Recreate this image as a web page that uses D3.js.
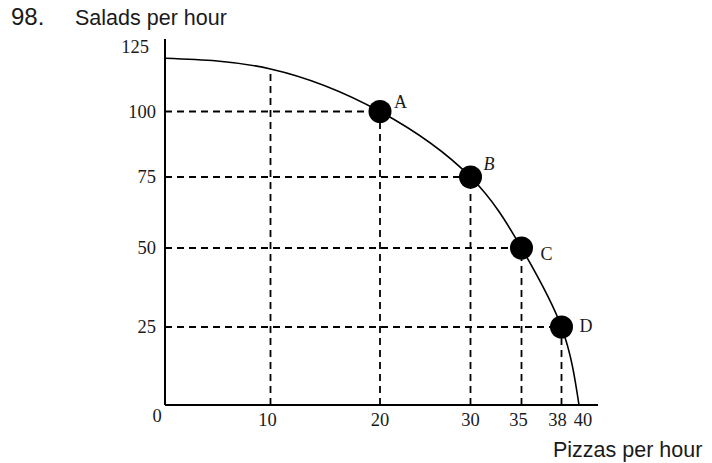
<!DOCTYPE html>
<html>
<head>
<meta charset="utf-8">
<script src="https://cdn.jsdelivr.net/npm/d3@7"></script>
<style>
  body { margin: 0; background: #fff; }
  text { fill: #1a1a1a; }
  .serif { font-family: "Liberation Serif", "DejaVu Serif", serif; }
  .sans { font-family: "Liberation Sans", Arial, sans-serif; }
</style>
</head>
<body>
<script>
// curve
var pizzas = [0, 10, 20, 30, 35, 38, 40];
var salads = [120, 116, 100, 75, 50, 25, 0];
// labelled points
var pointNames = ["A", "B", "C", "D"];
var pointPizzas = [20, 30, 35, 38];
var pointSalads = [100, 75, 50, 25];
// tick labels
var xTicks = [0, 10, 20, 30, 35, 38, 40];
var yTicks = [0, 25, 50, 75, 100, 125];

var svg = d3.select("body").append("svg")
    .attr("width", 712).attr("height", 463);

// the drawing is hand made, so the scales are piecewise
var x = d3.scaleLinear().domain(xTicks).range([165, 270.5, 380, 470.5, 521.5, 561.5, 579]);
var y = d3.scaleLinear().domain(yTicks).range([405, 327, 248, 177, 111.5, 45]);

// dashed guides
var guides = svg.append("g")
    .attr("stroke", "#000").attr("stroke-width", 1.8)
    .attr("stroke-dasharray", "7,5").attr("fill", "none");
// vertical one at 10 comes down from the curve
guides.append("line")
    .attr("x1", x(pizzas[1])).attr("x2", x(pizzas[1]))
    .attr("y1", y(0)).attr("y2", y(salads[1]));
pointNames.forEach(function(n, i) {
    guides.append("line")
        .attr("x1", x(0)).attr("x2", x(pointPizzas[i]))
        .attr("y1", y(pointSalads[i])).attr("y2", y(pointSalads[i]));
    guides.append("line")
        .attr("x1", x(pointPizzas[i])).attr("x2", x(pointPizzas[i]))
        .attr("y1", y(0)).attr("y2", y(pointSalads[i]));
});

// axes
svg.append("line").attr("x1", x(0)).attr("x2", 598).attr("y1", y(0)).attr("y2", y(0))
    .attr("stroke", "#000").attr("stroke-width", 2);
svg.append("line").attr("x1", x(0)).attr("x2", x(0)).attr("y1", y(0)).attr("y2", 39)
    .attr("stroke", "#000").attr("stroke-width", 2);

// the frontier
var line = d3.line()
    .x(function(d) { return x(d[0]); })
    .y(function(d) { return y(d[1]); })
    .curve(d3.curveNatural);
svg.append("path")
    .datum(d3.zip(pizzas, salads))
    .attr("d", line)
    .attr("fill", "none").attr("stroke", "#000").attr("stroke-width", 1.6);

// points
svg.append("g").selectAll("circle")
    .data(pointNames)
    .enter().append("circle")
    .attr("cx", function(d, i) { return x(pointPizzas[i]); })
    .attr("cy", function(d, i) { return y(pointSalads[i]); })
    .attr("r", 11.5)
    .attr("fill", "#000");

var nameOffset = { A: [14, -4], B: [13, -7], C: [19, 12], D: [18, 5] };
svg.append("g").selectAll("text")
    .data(pointNames)
    .enter().append("text")
    .attr("class", "serif")
    .attr("x", function(d, i) { return x(pointPizzas[i]) + nameOffset[d][0]; })
    .attr("y", function(d, i) { return y(pointSalads[i]) + nameOffset[d][1]; })
    .style("font-size", "18px")
    .style("font-style", function(d) { return d === "B" ? "italic" : "normal"; })
    .text(function(d) { return d; });

// tick labels
var xShift = { 0: -8, 10: -3, 35: -3, 38: -4, 40: 4 };
svg.append("g").selectAll("text")
    .data(xTicks)
    .enter().append("text")
    .attr("class", "serif")
    .attr("x", function(d) { return x(d) + (xShift[d] || 0); })
    .attr("y", function(d) { return d === 0 ? 422 : 426; })
    .attr("text-anchor", "middle")
    .style("font-size", "18.5px")
    .text(function(d) { return d; });

svg.append("g").selectAll("text")
    .data(yTicks.slice(1))
    .enter().append("text")
    .attr("class", "serif")
    .attr("x", function(d) { return d === 125 ? 149 : 156; })
    .attr("y", function(d) { return d === 125 ? 47 : y(d); })
    .attr("dy", "0.35em")
    .attr("text-anchor", "end")
    .style("font-size", "18.5px")
    .text(function(d) { return d; });

// titles
svg.append("text").attr("class", "sans")
    .attr("x", 11).attr("y", 25)
    .style("font-size", "24px")
    .text("98.");
svg.append("text").attr("class", "sans")
    .attr("x", 75).attr("y", 25)
    .style("font-size", "21.5px")
    .text("Salads per hour");
svg.append("text").attr("class", "sans")
    .attr("x", 553).attr("y", 457)
    .style("font-size", "21.5px")
    .text("Pizzas per hour");
</script>
</body>
</html>
